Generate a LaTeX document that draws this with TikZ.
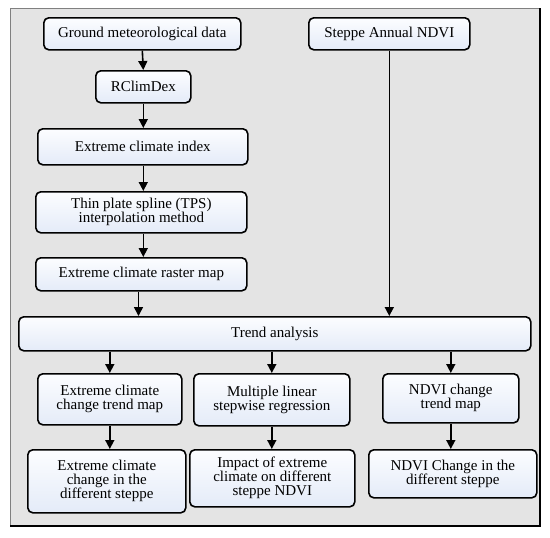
\documentclass[tikz,border=0pt]{standalone}
\usepackage{fontspec}
\setmainfont{Liberation Serif}
\usetikzlibrary{arrows.meta}
\definecolor{framebg}{HTML}{E4E4E4}
\definecolor{boxtop}{HTML}{FCFDFF}
\definecolor{boxbot}{HTML}{E4EBF8}
\tikzset{
  fbox/.style={draw=black, line width=1.6pt, rounded corners=5pt,
    top color=boxtop, bottom color=boxbot, align=center,
    font=\fontsize{15}{14}\selectfont, inner sep=0pt, anchor=north west},
  arr/.style={-{Triangle[length=9pt,width=9pt]}, line width=1.6pt},
}
\newcommand{\bx}[6]{% name, x1, y1, x2, y2, text
  \node[fbox, minimum width=#4pt-#2pt, minimum height=#5pt-#3pt] (#1) at (#2,#3) {#6};}
\begin{document}
\begin{tikzpicture}[x=1pt,y=-1pt]
\useasboundingbox (0,0) rectangle (550,538);
\fill[framebg] (10,8) rectangle (540,526);
\draw[gray, line width=1pt] (10,526) -- (10,8) -- (540,8);
\draw[black, line width=1.4pt] (540,8) -- (540,526) -- (10,526);

\bx{gmd}{43}{17}{240}{49}{Ground meteorological data}
\bx{rcd}{95}{70}{190}{102}{RClimDex}
\bx{eci}{37}{128}{247}{164}{Extreme climate index}
\bx{tps}{35}{191}{246}{232}{Thin plate spline (TPS)\\ interpolation method}
\bx{ecr}{35}{257}{246}{290}{Extreme climate raster map}
\bx{san}{308}{17}{469}{49}{Steppe Annual NDVI}
\bx{ta}{18}{316}{530}{350}{Trend analysis}
\bx{ectm}{37}{373}{181}{424}{Extreme climate\\ change trend map}
\bx{mlsr}{193}{373}{349}{425}{Multiple linear\\ stepwise regression}
\bx{ndtm}{382}{373}{518}{422}{NDVI change\\ trend map}
\bx{ecd}{27}{449}{185}{512}{Extreme climate\\ change in the\\ different steppe}
\bx{imp}{189}{449}{354}{506}{Impact of extreme\\ climate on different\\ steppe NDVI}
\bx{ndc}{368}{449}{536}{497}{NDVI Change in the\\ different steppe}

\coordinate (rx) at (138.5,0);
\draw[arr] (gmd.south) -- (rcd.north);
\draw[arr] (rcd.south) -- (eci.north -| rcd.south);
\draw[arr] (eci.south -| rcd.south) -- (tps.north -| rcd.south);
\draw[arr] (tps.south -| rcd.south) -- (ecr.north -| rcd.south);
\draw[arr] (ecr.south -| rx) -- (ta.north -| rx);
\draw[arr] (san.south) -- (ta.north -| san.south);
\draw[arr] (ta.south -| ectm.north) -- (ectm.north);
\draw[arr] (ta.south -| mlsr.north) -- (mlsr.north);
\draw[arr] (ta.south -| ndtm.north) -- (ndtm.north);
\draw[arr] (ectm.south) -- (ecd.north -| ectm.south);
\draw[arr] (mlsr.south) -- (imp.north -| mlsr.south);
\draw[arr] (ndtm.south) -- (ndc.north -| ndtm.south);
\end{tikzpicture}
\end{document}
